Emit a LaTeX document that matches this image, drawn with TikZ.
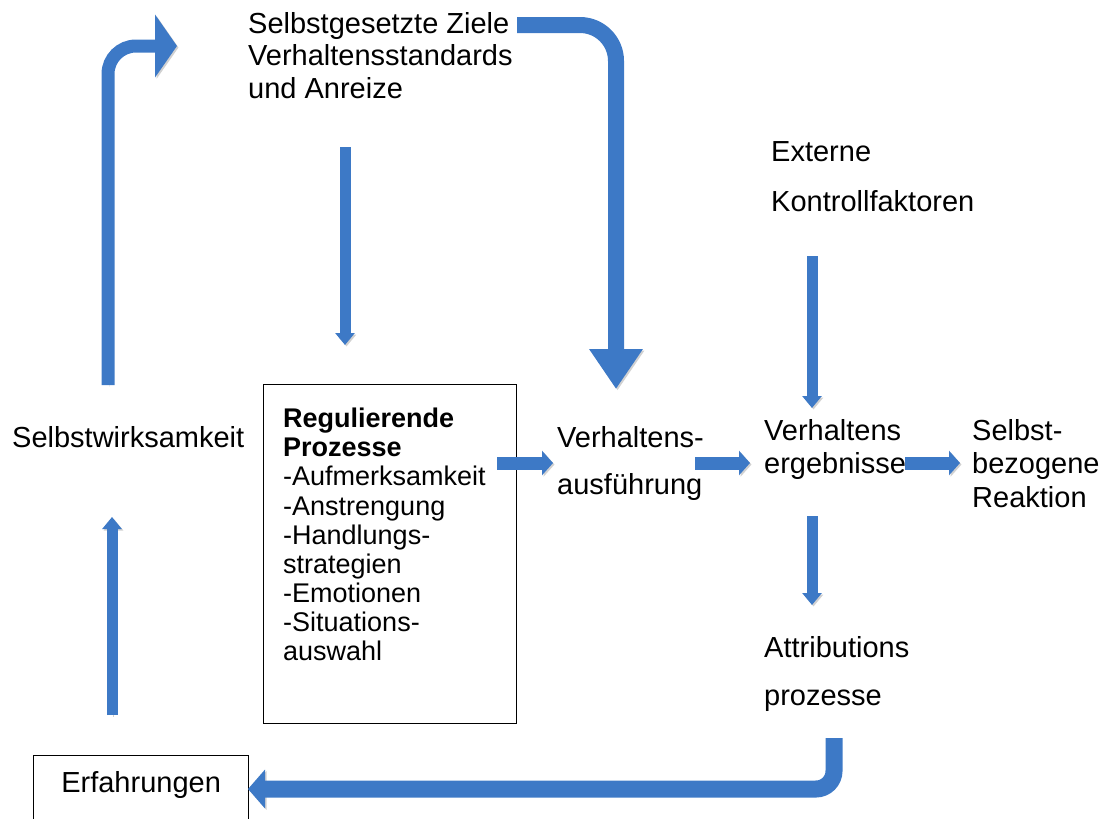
\documentclass[tikz,border=0pt]{standalone}
\usepackage{fontspec}
\setmainfont{Liberation Sans}
\usetikzlibrary{arrows.meta}
\definecolor{arrowblue}{RGB}{61,121,198}
\begin{document}
\begin{tikzpicture}[x=1pt,y=-1pt,
  txt/.style={inner sep=0pt, anchor=north west, align=left, font=\fontsize{29}{32.7}\selectfont},
  boxtxt/.style={inner sep=0pt, anchor=north west, align=left, font=\fontsize{27}{29.1}\selectfont},
  blk/.style={draw=arrowblue, line cap=butt, preaction={draw=black!18, transform canvas={shift={(1.5pt,-1.5pt)}}}},
  smallhead/.style={-{Triangle[width=19pt,length=12pt]}},
  righthead/.style={-{Triangle[width=24pt,length=11pt]}},
  framebox/.style={draw=black, line width=1.2pt, anchor=north west, inner sep=0pt}
]
\useasboundingbox (0,0) rectangle (1106,819);
\clip (0,0) rectangle (1106,819);

% texts
\node[txt] (ziele) at (248,12) {Selbstgesetzte Ziele\\Verhaltensstandards\\und Anreize};
\node[txt, font=\fontsize{29}{50}\selectfont] (extern) at (771,141) {Externe\\Kontrollfaktoren};
\node[txt] (swk) at (12,426) {Selbstwirksamkeit};
\node[framebox, minimum width=253pt, minimum height=339pt] (reg) at (263,384) {};
\node[boxtxt] (regtxt) at (283,408) {\textbf{Regulierende}\\\textbf{Prozesse}\\-Aufmerksamkeit\\-Anstrengung\\-Handlungs-\\strategien\\-Emotionen\\-Situations-\\auswahl};
\node[txt, font=\fontsize{29}{47}\selectfont] (vaus) at (557,426) {Verhaltens-\\ausführung};
\node[txt, font=\fontsize{29}{33}\selectfont] (verg) at (764,419) {Verhaltens\\ergebnisse};
\node[txt, font=\fontsize{29}{33.5}\selectfont] (sbr) at (972,419) {Selbst-\\bezogene\\Reaktion};
\node[txt, font=\fontsize{29}{48}\selectfont] (attr) at (764,636) {Attributions\\prozesse};
\node[framebox, minimum width=215pt, minimum height=80pt, font=\fontsize{29}{33}\selectfont, text height=21pt, text depth=27pt] (erf) at (33,755) {Erfahrungen};

% connector coordinates
\coordinate (a1s) at (108,385); \coordinate (a1c) at (108,46); \coordinate (a1e) at (177,46);
\coordinate (a2s) at (517,25); \coordinate (a2c) at (616,25); \coordinate (a2e) at (616,389);
\coordinate (a3s) at (345,147); \coordinate (a3e) at (345,345);
\coordinate (a4s) at (812,256); \coordinate (a4e) at (812,408);
\coordinate (a5s) at (812,516); \coordinate (a5e) at (812,605);
\coordinate (a6s) at (112,715); \coordinate (a6e) at (112,517);
\coordinate (r1s) at (497,463); \coordinate (r1e) at (553,463);
\coordinate (r2s) at (695,463); \coordinate (r2e) at (750,463);
\coordinate (r3s) at (905,463); \coordinate (r3e) at (960,463);
\coordinate (bs) at (834,738); \coordinate (bc) at (834,789); \coordinate (be) at (248,789);

% bent arrows
\draw[blk, line width=13pt, rounded corners=28pt, -{Triangle[width=62pt,length=22pt]}] (a1s) -- (a1c) -- (a1e);
\draw[blk, line width=16pt, rounded corners=36pt, -{Triangle[width=51pt,length=40pt]}] (a2s) -- (a2c) -- (a2e);
\draw[blk, line width=17pt, rounded corners=18pt, -{Triangle[width=38pt,length=17pt]}] (bs) -- (bc) -- (be);

% straight arrows
\draw[blk, line width=11pt, smallhead] (a3s) -- (a3e);
\draw[blk, line width=11pt, smallhead] (a4s) -- (a4e);
\draw[blk, line width=11pt, smallhead] (a5s) -- (a5e);
\draw[blk, line width=11pt, smallhead] (a6s) -- (a6e);
\draw[blk, line width=13pt, righthead] (r1s) -- (r1e);
\draw[blk, line width=13pt, righthead] (r2s) -- (r2e);
\draw[blk, line width=13pt, righthead] (r3s) -- (r3e);
\end{tikzpicture}
\end{document}
